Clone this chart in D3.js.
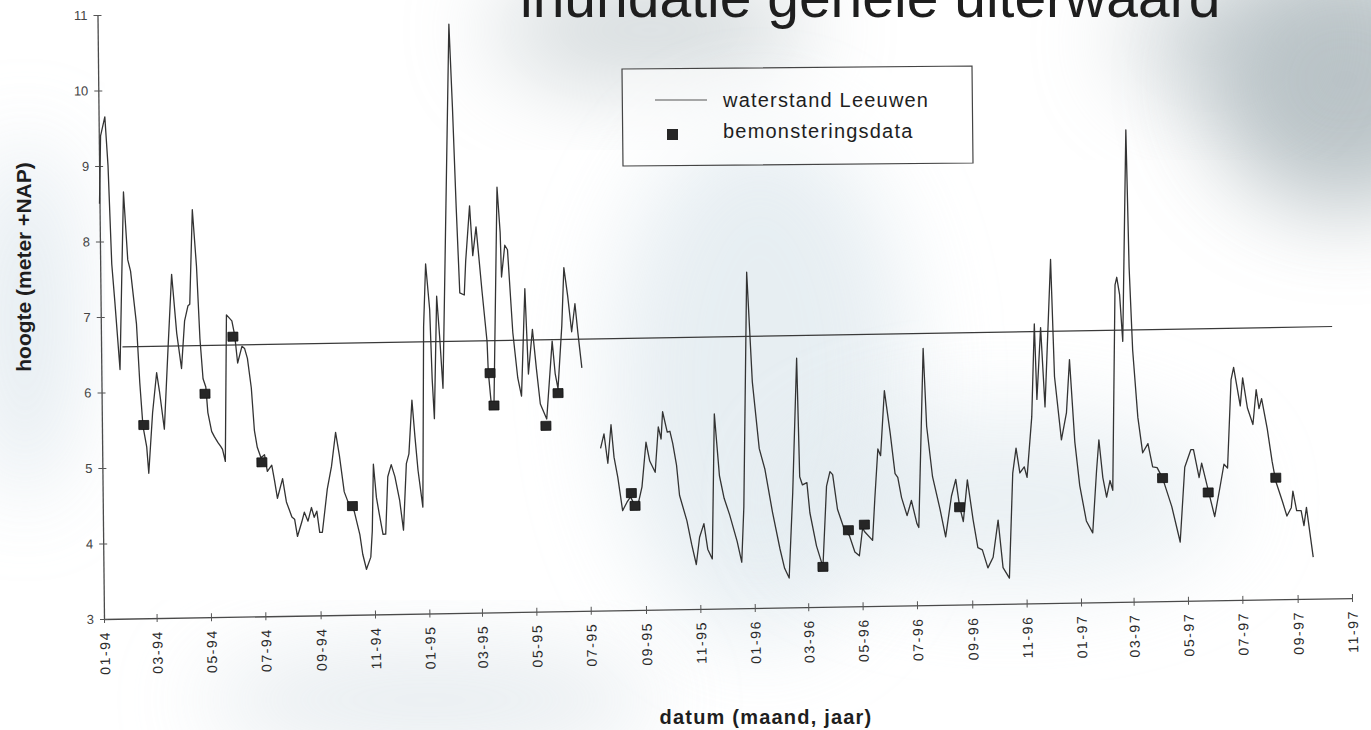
<!DOCTYPE html>
<html>
<head>
<meta charset="utf-8">
<script src="https://cdn.jsdelivr.net/npm/d3@7"></script>
<style>
    body { margin: 0; background: #ffffff; }
    svg { display: block; font-family: "Liberation Sans", Arial, sans-serif; }
</style>
</head>
<body>
<svg id="chart" width="1371" height="730"></svg>
<script>
// waterstand Leeuwen, [datum, hoogte in m +NAP]; null = ontbrekende data
const waterstand = [
    ["1994-01-01", 8.5], ["1994-01-03", 9.4], ["1994-01-08", 9.65], ["1994-01-11", 9.0], ["1994-01-14", 7.7],
    ["1994-01-17", 7.2], ["1994-01-22", 6.3], ["1994-01-25", 7.5], ["1994-01-28", 8.65], ["1994-02-01", 7.75],
    ["1994-02-04", 7.6], ["1994-02-10", 6.9], ["1994-02-13", 6.12], ["1994-02-16", 5.55], ["1994-02-20", 5.27],
    ["1994-02-22", 4.92], ["1994-02-27", 5.72], ["1994-03-04", 6.25], ["1994-03-07", 6.0], ["1994-03-12", 5.5],
    ["1994-03-17", 6.55], ["1994-03-22", 7.55], ["1994-03-27", 6.77], ["1994-04-01", 6.3], ["1994-04-05", 6.93],
    ["1994-04-09", 7.13], ["1994-04-11", 7.15], ["1994-04-15", 8.4], ["1994-04-19", 7.65], ["1994-04-22", 6.69],
    ["1994-04-25", 6.16], ["1994-04-28", 6.05], ["1994-04-30", 5.71], ["1994-05-04", 5.46], ["1994-05-07", 5.39],
    ["1994-05-11", 5.31], ["1994-05-14", 5.26], ["1994-05-16", 5.22], ["1994-05-19", 5.06], ["1994-05-22", 7.0],
    ["1994-05-28", 6.92], ["1994-05-31", 6.73], ["1994-06-03", 6.36], ["1994-06-08", 6.58], ["1994-06-11", 6.55],
    ["1994-06-14", 6.42], ["1994-06-18", 6.03], ["1994-06-21", 5.46], ["1994-06-24", 5.24], ["1994-06-28", 5.1],
    ["1994-07-02", 5.14], ["1994-07-05", 4.92], ["1994-07-10", 5.0], ["1994-07-13", 4.79], ["1994-07-16", 4.56],
    ["1994-07-22", 4.82], ["1994-07-26", 4.51], ["1994-08-01", 4.31], ["1994-08-04", 4.28], ["1994-08-07", 4.05],
    ["1994-08-12", 4.24], ["1994-08-15", 4.37], ["1994-08-19", 4.25], ["1994-08-23", 4.43], ["1994-08-26", 4.3],
    ["1994-08-29", 4.38], ["1994-09-01", 4.1], ["1994-09-04", 4.1], ["1994-09-10", 4.67], ["1994-09-15", 4.97],
    ["1994-09-20", 5.42], ["1994-09-24", 5.11], ["1994-09-29", 4.63], ["1994-10-03", 4.5], ["1994-10-10", 4.37],
    ["1994-10-16", 4.06], ["1994-10-19", 3.8], ["1994-10-23", 3.6], ["1994-10-28", 3.76], ["1994-10-30", 4.11],
    ["1994-11-01", 4.99], ["1994-11-04", 4.55], ["1994-11-07", 4.33], ["1994-11-11", 4.06], ["1994-11-14", 4.06],
    ["1994-11-17", 4.82], ["1994-11-21", 4.98], ["1994-11-25", 4.82], ["1994-11-30", 4.51], ["1994-12-04", 4.11],
    ["1994-12-08", 4.99], ["1994-12-11", 5.12], ["1994-12-15", 5.83], ["1994-12-18", 5.34], ["1994-12-21", 4.9],
    ["1994-12-26", 4.41], ["1994-12-29", 6.8], ["1995-01-01", 7.63], ["1995-01-05", 7.03], ["1995-01-07", 6.1],
    ["1995-01-09", 5.58], ["1995-01-13", 7.2], ["1995-01-16", 6.64], ["1995-01-19", 5.98], ["1995-01-30", 10.8],
    ["1995-02-02", 9.7], ["1995-02-05", 8.37], ["1995-02-08", 7.24], ["1995-02-13", 7.21], ["1995-02-15", 7.66],
    ["1995-02-20", 8.39], ["1995-02-23", 7.73], ["1995-02-27", 8.11], ["1995-03-05", 7.25], ["1995-03-10", 6.59],
    ["1995-03-11", 6.19], ["1995-03-14", 5.76], ["1995-03-17", 5.75], ["1995-03-23", 8.63], ["1995-03-26", 8.03],
    ["1995-03-27", 7.44], ["1995-03-31", 7.86], ["1995-04-03", 7.8], ["1995-04-08", 6.7], ["1995-04-13", 6.1],
    ["1995-04-17", 5.86], ["1995-04-22", 7.28], ["1995-04-25", 6.15], ["1995-04-30", 6.74], ["1995-05-04", 6.22],
    ["1995-05-08", 5.75], ["1995-05-15", 5.55], ["1995-05-22", 6.58], ["1995-05-25", 6.15], ["1995-05-28", 5.95],
    ["1995-06-02", 6.78], ["1995-06-05", 7.55], ["1995-06-09", 7.17], ["1995-06-13", 6.7], ["1995-06-17", 7.07],
    ["1995-06-20", 6.68], ["1995-06-24", 6.22], ["1995-07-01", null],
    ["1995-07-14", 5.15], ["1995-07-18", 5.34], ["1995-07-22", 4.95], ["1995-07-26", 5.46], ["1995-07-29", 5.03],
    ["1995-08-02", 4.76], ["1995-08-07", 4.32], ["1995-08-12", 4.43], ["1995-08-16", 4.5], ["1995-08-23", 4.33],
    ["1995-08-29", 4.63], ["1995-09-03", 5.22], ["1995-09-07", 4.97], ["1995-09-13", 4.82], ["1995-09-17", 5.42],
    ["1995-09-20", 5.26], ["1995-09-22", 5.62], ["1995-09-27", 5.35], ["1995-09-30", 5.36], ["1995-10-03", 5.2],
    ["1995-10-07", 4.91], ["1995-10-10", 4.51], ["1995-10-18", 4.17], ["1995-10-23", 3.86], ["1995-10-28", 3.59],
    ["1995-11-01", 3.95], ["1995-11-06", 4.13], ["1995-11-10", 3.79], ["1995-11-15", 3.66], ["1995-11-19", 5.58],
    ["1995-11-24", 4.76], ["1995-11-29", 4.46], ["1995-12-05", 4.24], ["1995-12-13", 3.89], ["1995-12-18", 3.61],
    ["1995-12-21", 4.34], ["1995-12-27", 7.45], ["1996-01-01", 6.0], ["1996-01-08", 5.11], ["1996-01-14", 4.84],
    ["1996-01-22", 4.27], ["1996-01-30", 3.78], ["1996-02-04", 3.52], ["1996-02-09", 3.39], ["1996-02-14", 4.52],
    ["1996-02-20", 6.3], ["1996-02-22", 4.73], ["1996-02-25", 4.62], ["1996-03-01", 4.65], ["1996-03-04", 4.25],
    ["1996-03-11", 3.81], ["1996-03-18", 3.53], ["1996-03-23", 4.6], ["1996-03-27", 4.79], ["1996-03-30", 4.75],
    ["1996-04-04", 4.29], ["1996-04-12", 4.0], ["1996-04-17", 3.94], ["1996-04-23", 3.72], ["1996-04-28", 3.67],
    ["1996-05-02", 4.04], ["1996-05-04", 3.99], ["1996-05-13", 3.87], ["1996-05-16", 4.42], ["1996-05-20", 5.08],
    ["1996-05-23", 4.99], ["1996-05-28", 5.85], ["1996-06-03", 5.29], ["1996-06-08", 4.75], ["1996-06-11", 4.7],
    ["1996-06-15", 4.43], ["1996-06-21", 4.19], ["1996-06-26", 4.39], ["1996-07-02", 4.08], ["1996-07-04", 4.03],
    ["1996-07-11", 6.4], ["1996-07-14", 5.37], ["1996-07-20", 4.7], ["1996-07-28", 4.27], ["1996-08-03", 3.9],
    ["1996-08-10", 4.44], ["1996-08-15", 4.66], ["1996-08-19", 4.3], ["1996-08-23", 4.1], ["1996-08-28", 4.65],
    ["1996-09-03", 4.12], ["1996-09-08", 3.75], ["1996-09-13", 3.72], ["1996-09-19", 3.48], ["1996-09-25", 3.62],
    ["1996-10-01", 4.11], ["1996-10-06", 3.48], ["1996-10-13", 3.34], ["1996-10-18", 4.73], ["1996-10-22", 5.06],
    ["1996-10-26", 4.73], ["1996-10-31", 4.81], ["1996-11-03", 4.67], ["1996-11-09", 5.47], ["1996-11-13", 6.7],
    ["1996-11-15", 5.7], ["1996-11-20", 6.65], ["1996-11-24", 5.6], ["1996-12-02", 7.55], ["1996-12-05", 6.0],
    ["1996-12-12", 5.16], ["1996-12-18", 5.52], ["1996-12-22", 6.22], ["1996-12-27", 5.13], ["1997-01-01", 4.55],
    ["1997-01-08", 4.08], ["1997-01-15", 3.92], ["1997-01-20", 4.74], ["1997-01-23", 5.15], ["1997-01-27", 4.65],
    ["1997-01-31", 4.39], ["1997-02-04", 4.61], ["1997-02-07", 4.48], ["1997-02-12", 7.2], ["1997-02-14", 7.3],
    ["1997-02-17", 7.07], ["1997-02-20", 6.45], ["1997-02-26", 9.25], ["1997-02-28", 7.43], ["1997-03-03", 6.33],
    ["1997-03-08", 5.44], ["1997-03-13", 4.97], ["1997-03-19", 5.09], ["1997-03-24", 4.78], ["1997-03-29", 4.77],
    ["1997-04-04", 4.63], ["1997-04-14", 4.25], ["1997-04-23", 3.78], ["1997-04-29", 4.77], ["1997-05-06", 5.0],
    ["1997-05-09", 5.0], ["1997-05-15", 4.63], ["1997-05-18", 4.82], ["1997-05-26", 4.41], ["1997-06-01", 4.11],
    ["1997-06-07", 4.48], ["1997-06-12", 4.8], ["1997-06-16", 4.75], ["1997-06-21", 5.92], ["1997-06-24", 6.08],
    ["1997-07-01", 5.57], ["1997-07-04", 5.94], ["1997-07-09", 5.54], ["1997-07-15", 5.32], ["1997-07-19", 5.78],
    ["1997-07-22", 5.53], ["1997-07-25", 5.66], ["1997-07-31", 5.26], ["1997-08-05", 4.83], ["1997-08-09", 4.56],
    ["1997-08-16", 4.3], ["1997-08-21", 4.1], ["1997-08-26", 4.21], ["1997-08-28", 4.43], ["1997-09-01", 4.17],
    ["1997-09-06", 4.17], ["1997-09-09", 3.97], ["1997-09-12", 4.21], ["1997-09-19", 3.55]
];

// bemonsteringsdata
const sampleDates = ["1994-02-17", "1994-04-27", "1994-05-29", "1994-06-29", "1994-10-08", "1995-03-13",
                     "1995-03-17", "1995-05-14", "1995-05-28", "1995-08-17", "1995-08-21", "1996-03-18",
                     "1996-04-16", "1996-05-04", "1996-08-19", "1997-04-04", "1997-05-25", "1997-08-09"];
const sampleValues = [5.56, 5.96, 6.71, 5.04, 4.44, 6.17, 5.74, 5.46, 5.89, 4.55, 4.38, 3.53,
                      4.01, 4.08, 4.29, 4.63, 4.43, 4.61];

// inundatiegrens
const thresholdLevel = 6.6;
const thresholdDates = ["1994-01-25", "1997-10-13"];

const xDomain = ["1994-01-01", "1997-11-01"];
const yTicks = [3, 4, 5, 6, 7, 8, 9, 10, 11];
const titleText = "inundatie gehele uiterwaard";
const legendLabels = ["waterstand Leeuwen", "bemonsteringsdata"];
const xTitle = "datum (maand, jaar)";
const yTitle = "hoogte (meter +NAP)";

const parse = d3.timeParse("%Y-%m-%d");
const svg = d3.select("#chart");

// scanned-paper shading
const defs = svg.append("defs");
defs.append("filter")
    .attr("id", "soft")
    .attr("x", "-50%").attr("y", "-50%")
    .attr("width", "200%").attr("height", "200%")
    .append("feGaussianBlur")
    .attr("stdDeviation", 45);
const shades = [
    { cx: 1345, cy: 80, rx: 140, ry: 130, c: "#9eabb0", o: 0.7 },
    { cx: 1210, cy: 40, rx: 90, ry: 60, c: "#b3bec2", o: 0.5 },
    { cx: 650, cy: 30, rx: 160, ry: 60, c: "#adb9bd", o: 0.5 },
    { cx: 760, cy: 380, rx: 150, ry: 260, c: "#dde7ed", o: 0.7 },
    { cx: 1010, cy: 500, rx: 220, ry: 90, c: "#e0e9ee", o: 0.65 },
    { cx: 25, cy: 320, rx: 40, ry: 180, c: "#d4e0e8", o: 0.8 },
    { cx: 430, cy: 700, rx: 230, ry: 50, c: "#dbe3e8", o: 0.7 }
];
svg.append("g")
   .attr("class", "shading")
   .selectAll("ellipse")
   .data(shades)
   .join("ellipse")
   .attr("cx", (d) => d.cx)
   .attr("cy", (d) => d.cy)
   .attr("rx", (d) => d.rx)
   .attr("ry", (d) => d.ry)
   .style("fill", (d) => d.c)
   .style("opacity", (d) => d.o)
   .attr("filter", "url(#soft)");

// title, cut off at the top of the scan (as in the original)
svg.append("text")
   .attr("x", 520)
   .attr("y", 17)
   .style("font-size", "57px")
   .style("fill", "#1e1e1e")
   .text(titleText);

// plot area: the scan is slightly tilted and skewed
const width = 1248;
const height = 604;
const plot = svg.append("g")
                .attr("transform", "matrix(1,-0.0168,0.0108,1,104,619)");

const x = d3.scaleTime()
            .domain(xDomain.map(parse))
            .range([0, width]);
const y = d3.scaleLinear()
            .domain([3, 11])
            .range([0, -height]);

const xAxis = plot.append("g")
                  .attr("class", "x-axis")
                  .call(d3.axisBottom(x)
                          .tickValues(d3.timeMonth.every(2).range(parse(xDomain[0]), d3.timeDay.offset(parse(xDomain[1]), 1)))
                          .tickFormat(d3.timeFormat("%m-%y"))
                          .tickSize(4)
                          .tickSizeOuter(0));
xAxis.selectAll(".tick line").attr("y1", -4).style("stroke", "#555");
xAxis.selectAll(".tick text")
     .attr("transform", "rotate(-90)")
     .attr("x", -12)
     .attr("y", 0)
     .attr("dy", "0.36em")
     .style("text-anchor", "end")
     .style("font-size", "14px")
     .style("letter-spacing", "1.6px")
     .style("font-family", "'Liberation Sans', Arial, sans-serif")
     .style("fill", "#2a2a2a");

const yAxis = plot.append("g")
                  .attr("class", "y-axis")
                  .call(d3.axisLeft(y)
                          .tickValues(yTicks)
                          .tickSize(4)
                          .tickSizeOuter(0));
yAxis.selectAll(".tick line").attr("x1", 4).style("stroke", "#555");
yAxis.selectAll(".tick text")
     .attr("x", -10)
     .style("font-size", "13px")
     .style("font-family", "'Liberation Sans', Arial, sans-serif")
     .style("fill", "#444");
plot.selectAll(".domain").style("stroke", "#4a4a4a").style("stroke-width", 1.3);

// threshold level line
plot.append("line")
    .attr("x1", x(parse(thresholdDates[0])))
    .attr("x2", x(parse(thresholdDates[1])))
    .attr("y1", y(thresholdLevel))
    .attr("y2", y(thresholdLevel))
    .style("stroke", "#3a3a3a")
    .style("stroke-width", 1.2);

// water level
const line = d3.line()
               .defined((d) => d[1] !== null)
               .x((d) => x(parse(d[0])))
               .y((d) => y(d[1]));
plot.append("path")
    .datum(waterstand)
    .attr("d", line)
    .style("fill", "none")
    .style("stroke", "#333")
    .style("stroke-width", 1.3)
    .style("stroke-linejoin", "round");

// sample markers
plot.append("g")
    .selectAll("rect")
    .data(sampleDates)
    .join("rect")
    .attr("x", (d) => x(parse(d)) - 5)
    .attr("y", (d, i) => y(sampleValues[i]) - 4.5)
    .attr("width", 10)
    .attr("height", 9)
    .style("fill", "#262626")
    .style("stroke", "#111")
    .style("stroke-width", 0.8);

// legend
const legend = svg.append("g").attr("class", "legend");
legend.append("path")
      .attr("d", "M622,69 L972,66 L973,163 L623,166 Z")
      .style("fill", "#ffffff")
      .style("fill-opacity", 0.55)
      .style("stroke", "#444")
      .style("stroke-width", 1.2);
legend.append("line")
      .attr("x1", 655).attr("x2", 707)
      .attr("y1", 100).attr("y2", 100)
      .style("stroke", "#555")
      .style("stroke-width", 1.1);
legend.append("rect")
      .attr("x", 667).attr("y", 129)
      .attr("width", 11).attr("height", 11)
      .style("fill", "#262626");
legend.selectAll("text")
      .data(legendLabels)
      .join("text")
      .attr("x", 723)
      .attr("y", (d, i) => 107 + i * 31)
      .style("font-size", "20px")
      .style("letter-spacing", "1.2px")
      .style("fill", "#1e1e1e")
      .text((d) => d);

// axis titles
svg.append("text")
   .attr("transform", "translate(31,267) rotate(-90)")
   .style("text-anchor", "middle")
   .style("font-size", "21px")
   .style("font-weight", "bold")
   .style("fill", "#1e1e1e")
   .text(yTitle);
svg.append("text")
   .attr("x", 766)
   .attr("y", 724)
   .style("text-anchor", "middle")
   .style("font-size", "20px")
   .style("letter-spacing", "1.2px")
   .style("font-weight", "bold")
   .style("fill", "#1e1e1e")
   .text(xTitle);
</script>
</body>
</html>
